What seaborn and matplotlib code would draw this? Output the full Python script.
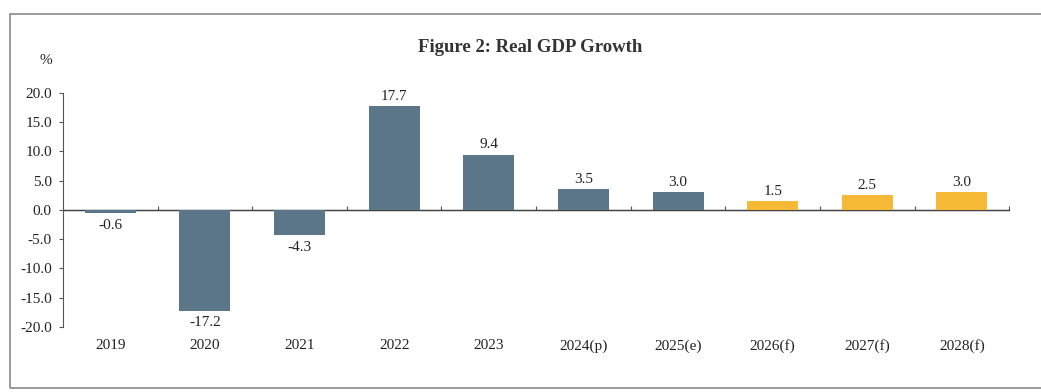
import matplotlib
matplotlib.use("Agg")
import matplotlib.pyplot as plt
import seaborn as sns
import pandas as pd
from matplotlib.patches import Rectangle

years = ["2019", "2020", "2021", "2022", "2023", "2024(p)", "2025(e)", "2026(f)", "2027(f)", "2028(f)"]
growth = [-0.6, -17.2, -4.3, 17.7, 9.4, 3.5, 3.0, 1.5, 2.5, 3.0]
kind = ["Actual", "Actual", "Actual", "Actual", "Actual", "Actual", "Actual", "Forecast", "Forecast", "Forecast"]
yticks = [-20.0, -15.0, -10.0, -5.0, 0.0, 5.0, 10.0, 15.0, 20.0]

df = pd.DataFrame({"year": years, "growth": growth, "kind": kind})

sns.set_style("white")
plt.rcParams["font.family"] = ["Liberation Serif", "DejaVu Serif"]

fig = plt.figure(figsize=(10.41, 3.92), dpi=100)
ax = fig.add_axes([0.0605, 0.166, 0.909, 0.597])

sns.barplot(data=df, x="year", y="growth", hue="kind",
            palette={"Actual": "#5b7589", "Forecast": "#f6b935"},
            dodge=False, width=0.54, legend=False, ax=ax, saturation=1,
            linewidth=0, edgecolor="none")

ax.set_ylim(-20, 20)
ax.set_xlim(-0.5, len(years) - 0.5)
ax.set_yticks(yticks)
ax.set_yticklabels([f"{v:.1f}" for v in yticks], fontsize=11, color="#222222")
ax.tick_params(axis="y", direction="out", length=3, width=0.8, color="#555555", pad=5, left=True)
ax.tick_params(axis="x", length=0, labelsize=11, labelcolor="#222222", pad=9)
ax.set_xlabel("")
ax.set_ylabel("")

for s in ["top", "right", "bottom"]:
    ax.spines[s].set_visible(False)
ax.spines["left"].set_color("#555555")
ax.spines["left"].set_linewidth(0.8)

ax.axhline(0, color="#444444", linewidth=1.0, zorder=0.5)
sec = ax.secondary_xaxis(0.5)
sec.set_xticks([i + 0.5 for i in range(len(years))])
sec.set_xticklabels([])
sec.tick_params(direction="out", length=3, width=0.8, color="#555555")
sec.spines["bottom"].set_visible(False)

for i, v in enumerate(growth):
    if v >= 0:
        ax.text(i, v + 0.6, f"{v:.1f}", ha="center", va="bottom", fontsize=11, color="#222222")
    else:
        ax.text(i, v - 1.0, f"{v:.1f}", ha="center", va="top", fontsize=11, color="#222222")

fig.text(0.509, 0.878, "Figure 2: Real GDP Growth", ha="center", va="center",
         fontsize=13.5, fontweight="bold", color="#333333")
fig.text(0.044, 0.845, "%", ha="center", va="center", fontsize=11, color="#222222")

fig.patches.append(Rectangle((0.0095, 0.01), 1.0, 0.955, transform=fig.transFigure,
                             fill=False, edgecolor="#8a8a8a", linewidth=1.2))

fig.savefig("out.png", dpi=100)
